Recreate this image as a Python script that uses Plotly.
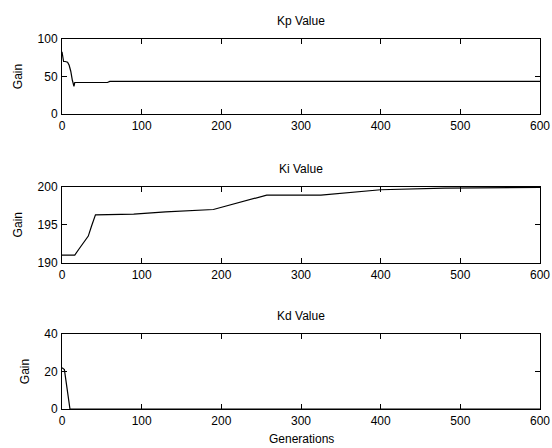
import plotly.graph_objects as go

kp_x = [0, 1, 2, 4, 7, 9, 11, 13, 15, 16, 57, 60, 600]
kp_y = [83, 78, 70, 70, 69, 65, 57, 45, 37, 42, 42, 43.5, 43.5]

ki_x = [0, 16, 22, 28, 33, 37, 42, 90, 130, 190, 257, 325, 400, 480, 600]
ki_y = [191.0, 191.0, 191.9, 192.7, 193.5, 194.8, 196.3, 196.4, 196.7, 197.0, 198.9, 198.9, 199.6, 199.8, 199.9]

kd_x = [0, 3, 10, 600]
kd_y = [22, 21, 0, 0]

titles = ["Kp Value", "Ki Value", "Kd Value"]
y_ranges = [[0, 100], [190, 200], [0, 40]]
y_ticks = [[0, 50, 100], [190, 195, 200], [0, 20, 40]]
x_ticks = [0, 100, 200, 300, 400, 500, 600]

FONT = "Liberation Sans, Arial, sans-serif"
fig = go.Figure()

series = [(kp_x, kp_y), (ki_x, ki_y), (kd_x, kd_y)]
x_dom = [62 / 552, 540 / 552]
y_doms = [[334 / 448, 409 / 448], [185.3 / 448, 261.3 / 448], [39 / 448, 114 / 448]]

for i, (xs, ys) in enumerate(series):
    n = "" if i == 0 else str(i + 1)
    fig.add_trace(go.Scatter(x=xs, y=ys, mode="lines", line=dict(color="black", width=1.2),
                             xaxis="x" + n, yaxis="y" + n, showlegend=False))
    common = dict(showline=True, mirror="ticks", linecolor="black", linewidth=1,
                  ticks="inside", ticklen=5, tickcolor="black", showgrid=False, zeroline=False,
                  automargin=False, ticklabelstandoff=1,
                  tickfont=dict(family=FONT, size=12, color="black"))
    fig.layout["xaxis" + n] = dict(domain=x_dom, range=[0, 600], tickvals=x_ticks,
                                   anchor="y" + n, **common)
    fig.layout["yaxis" + n] = dict(domain=y_doms[i], range=y_ranges[i], tickvals=y_ticks[i],
                                   anchor="x" + n,
                                   title=dict(text="Gain", font=dict(family=FONT, size=12, color="black"), standoff=12),
                                   **common)
    fig.add_annotation(text=titles[i], xref="paper", yref="paper",
                       x=(x_dom[0] + x_dom[1]) / 2, y=y_doms[i][1], yshift=9,
                       xanchor="center", yanchor="bottom", showarrow=False,
                       font=dict(family=FONT, size=12, color="black"))

fig.add_annotation(text="Generations", xref="paper", yref="paper",
                   x=(x_dom[0] + x_dom[1]) / 2, y=0, yshift=0, xanchor="center", yanchor="bottom",
                   showarrow=False, font=dict(family=FONT, size=12, color="black"))

fig.update_layout(width=552, height=448, margin=dict(l=0, r=0, t=0, b=0),
                  paper_bgcolor="white", plot_bgcolor="white")
fig.write_html("out.html", config={"displayModeBar": False},
               post_script="document.body.style.margin='0';document.body.style.overflow='hidden';")
